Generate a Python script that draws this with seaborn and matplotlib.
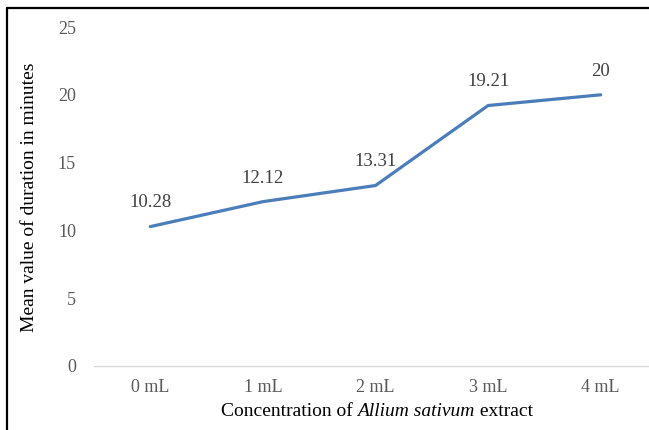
import matplotlib
matplotlib.use("Agg")
import matplotlib.pyplot as plt
from matplotlib.lines import Line2D
from matplotlib.offsetbox import TextArea, HPacker, AnchoredOffsetbox
import seaborn as sns
import pandas as pd

concentrations = ["0 mL", "1 mL", "2 mL", "3 mL", "4 mL"]
mean_duration = [10.28, 12.12, 13.31, 19.21, 20]
y_ticks = [0, 5, 10, 15, 20, 25]

df = pd.DataFrame({"Concentration": concentrations, "Duration": mean_duration})

sns.set_theme(style="white")
plt.rcParams["font.family"] = ["Liberation Serif", "DejaVu Serif"]

W, H = 649, 430
fig = plt.figure(figsize=(W / 100, H / 100), dpi=100)
ax = fig.add_axes([94 / W, (H - 366) / H, (W - 94) / W, (366 - 27) / H])

sns.lineplot(data=df, x="Concentration", y="Duration", sort=False,
             color="#4A7EBB", linewidth=2.3, ax=ax)

ax.set_ylim(0, 25)
ax.set_xlim(-0.5, (W - 94) / 112.6 - 0.5)
ax.set_yticks(y_ticks)
ax.set_yticklabels([str(t) for t in y_ticks])

for s in ["top", "right", "left"]:
    ax.spines[s].set_visible(False)
ax.spines["bottom"].set_color("#D9D9D9")
ax.spines["bottom"].set_linewidth(1.0)

ax.tick_params(axis="both", length=0, labelsize=13, labelcolor="#595959")
ax.tick_params(axis="y", pad=13)
ax.tick_params(axis="x", pad=9)

for i, v in enumerate(mean_duration):
    ax.annotate(f"{v:g}", (i, v), xytext=(0, 17), textcoords="offset points",
                ha="center", va="center", fontsize=13.5, color="#404040")

ax.set_xlabel("")
ax.set_ylabel("")
fig.text(30 / W, (H - 197) / H, "Mean value of duration in minutes",
         rotation=90, ha="center", va="center", fontsize=14, color="black")

# x-axis title with an italic species name
parts = [("Concentration of ", "normal"), ("Allium sativum", "italic"), (" extract", "normal")]
boxes = [TextArea(t, textprops=dict(fontsize=14, color="black", style=st,
                                    family="Liberation Serif")) for t, st in parts]
packed = HPacker(children=boxes, align="baseline", pad=0, sep=0)
anchored = AnchoredOffsetbox(loc="center", child=packed, frameon=False,
                             bbox_to_anchor=(377 / W, (H - 411) / H),
                             bbox_transform=fig.transFigure, pad=0, borderpad=0)
fig.add_artist(anchored)

# frame lines along the top and left edges
fig.add_artist(Line2D([7 / W, 1], [(H - 8) / H] * 2, color="black", linewidth=1.6,
                      transform=fig.transFigure))
fig.add_artist(Line2D([7 / W] * 2, [0, (H - 8) / H], color="black", linewidth=1.6,
                      transform=fig.transFigure))

fig.savefig("out.png", dpi=100)
